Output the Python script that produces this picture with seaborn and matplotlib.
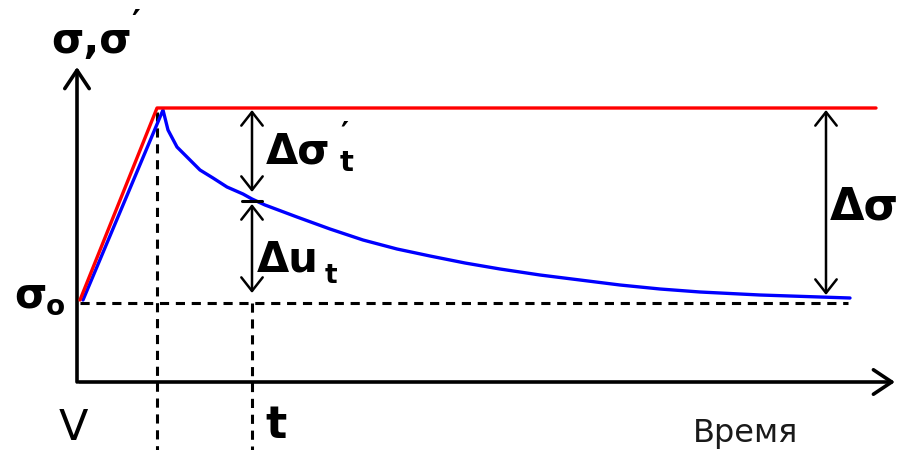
import matplotlib
matplotlib.use('Agg')
import matplotlib.pyplot as plt
import seaborn as sns
import pandas as pd

# ---- data (schematic units: time, stress) ----
sigma0 = 81          # initial stress level
sigma_peak = 274     # stress after loading
t_load = 80          # end of loading
t_obs = 175          # observation time t
t_red_end = 799
t_delta = 749        # position of the Δσ arrow
t_dash_end = 771

red_time = [3, 80, 799]
red_stress = [82, 274, 274]

blue_time = [6, 86, 91, 100, 110, 123, 136, 150, 166, 175, 188, 220, 253, 286,
             320, 353, 388, 423, 463, 503, 543, 583, 623, 683, 773]
blue_stress = [82, 272, 252, 235, 225, 212, 204, 195, 188, 183, 177, 165, 153, 142,
               133, 126, 119, 113, 107, 102, 97, 93, 90, 87, 84]
sigma_at_t = 183     # blue value at t_obs (split point of the double arrows)

sns.set_theme(style='white')
plt.rcParams['font.family'] = ['DejaVu Sans']

fig = plt.figure(figsize=(9, 4.5), dpi=100)
ax = fig.add_axes([0, 0, 1, 1])
ax.set_xlim(-77, 823)
ax.set_ylim(-68, 382)
ax.axis('off')

red_df = pd.DataFrame({'time': red_time, 'stress': red_stress})
blue_df = pd.DataFrame({'time': blue_time, 'stress': blue_stress})
sns.lineplot(data=blue_df, x='time', y='stress', sort=False, estimator=None,
             color='#0000ff', linewidth=2.4, ax=ax, zorder=3)
sns.lineplot(data=red_df, x='time', y='stress', sort=False, estimator=None,
             color='#ff0000', linewidth=2.4, ax=ax, zorder=4)

# dashed guides
dash = dict(color='black', linewidth=2.2, linestyle=(0, (3, 2.2)), zorder=2)
ax.plot([3, t_dash_end], [sigma0 - 2, sigma0 - 2], **dash)
ax.plot([t_load, t_load], [sigma_peak - 4, -68], **dash)
ax.plot([t_obs, t_obs], [sigma0 - 2, -68], **dash)

# coordinate axes with open arrowheads
axis_arrow = dict(arrowstyle='->,head_length=0.6,head_width=0.4', color='black',
                  linewidth=2.6, shrinkA=0, shrinkB=0, mutation_scale=22)
ax.annotate('', xy=(0, 315), xytext=(0, 0), arrowprops=axis_arrow)
ax.annotate('', xy=(818, 0), xytext=(2, 0), arrowprops=axis_arrow)

# double arrows
dbl = dict(arrowstyle='<->,head_length=0.7,head_width=0.55', color='black',
           linewidth=1.8, shrinkA=0, shrinkB=0, mutation_scale=14)
ax.annotate('', xy=(t_obs, sigma_peak - 2), xytext=(t_obs, sigma_at_t + 7), arrowprops=dbl)
ax.annotate('', xy=(t_obs, sigma_at_t - 5), xytext=(t_obs, sigma0 + 8), arrowprops=dbl)
ax.annotate('', xy=(t_delta, sigma_peak - 2), xytext=(t_delta, sigma0 + 6), arrowprops=dbl)
ax.plot([t_obs - 10, t_obs + 10], [sigma_at_t - 2, sigma_at_t - 2], color='black',
        linewidth=2.2, zorder=5)

# labels
bold = dict(fontweight='bold', color='black', ha='left', va='baseline')
ax.text(-26, 329, 'σ,σ', fontsize=30, **bold)
ax.text(54, 374, '′', fontsize=24, fontweight='bold', color='black', ha='left', va='top')
ax.text(-63, 75, 'σ', fontsize=30, **bold)
ax.text(-31, 67, 'o', fontsize=20, **bold)

ax.text(189, 219, 'Δσ', fontsize=30, **bold)
ax.text(263, 262, '′', fontsize=22, fontweight='bold', color='black', ha='left', va='top')
ax.text(263, 211, 't', fontsize=21, **bold)

ax.text(180, 110, 'Δu', fontsize=30, **bold)
ax.text(248, 99, 't', fontsize=19, **bold)

ax.text(753, 162, 'Δσ', fontsize=32, **bold)

ax.text(-18, -67, 'V', fontsize=31, color='black', ha='left', va='bottom')
ax.text(188, -56, 't', fontsize=32, **bold)
ax.text(616, -60, 'Время', fontsize=23, color='#1a1a1a', ha='left', va='baseline')

fig.savefig('out.png', dpi=100)
